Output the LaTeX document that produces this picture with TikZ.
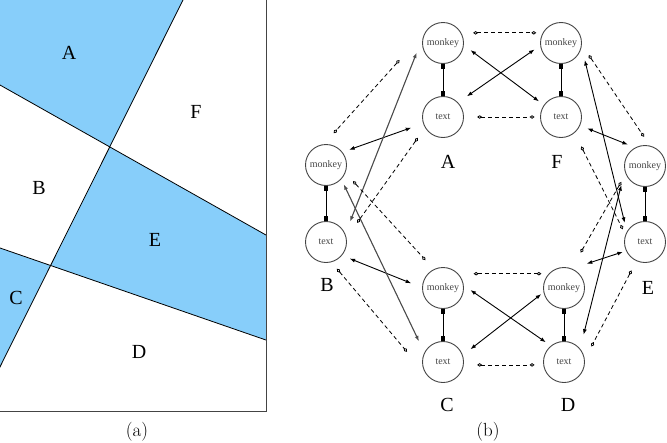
\documentclass[tikz,border=0pt]{standalone}
\usepackage{fontspec}
\usepackage{tikz}
\usetikzlibrary{arrows.meta}
\newfontfamily\timesfont{Liberation Serif}
\definecolor{regionblue}{RGB}{135,206,250}
\definecolor{ringgray}{HTML}{444444}

\begin{document}
\begin{tikzpicture}[x=1pt,y=-1pt,
    agent/.style={circle,draw=ringgray,line width=0.9pt,minimum size=41pt,inner sep=0pt,
      text=ringgray,font=\timesfont\fontsize{10}{12}\selectfont},
    tie/.style={{Square[length=5pt,width=4pt]}-{Square[length=5pt,width=4pt]},line width=1pt},
    link/.style={{Latex[length=5.5pt,width=4pt]}-{Latex[length=5.5pt,width=4pt]},line width=0.9pt},
    hint/.style={{Diamond[open,length=5pt,width=3.5pt]}-{Diamond[open,length=5pt,width=3.5pt]},
      line width=0.8pt,dash pattern=on 4pt off 3pt},
    letter/.style={font=\timesfont\fontsize{20}{24}\selectfont}]
  \useasboundingbox (0,0) rectangle (667,442);
  % (a) the plane cut by three lines
  \begin{scope}
    \clip (0,0) rectangle (266,411);
    \fill[regionblue] (-30,-5) -- (185.5,-5) -- (110,147) -- (-30,68.1) -- cycle;
    \fill[regionblue] (110,147) -- (266,235) -- (266,340) -- (50.6,265.5) -- cycle;
    \fill[regionblue] (-30,237.6) -- (50.6,265.5) -- (-30,427) -- cycle;
    \draw[line width=0.8pt] (185.5,-5) -- (-30,427);
    \draw[line width=0.8pt] (-30,68.1) -- (300,254.2);
    \draw[line width=0.8pt] (-30,237.6) -- (300,351.8);
  \end{scope}
  \draw[ringgray,line width=0.9pt] (266,0) -- (266,411) -- (0,411);
  \foreach \g/\x/\y in {A/69/53,F/196/112,B/39/188,E/155/240,C/16/298,D/139/352}
    \node[letter] (reg\g) at (\x,\y) {\g};
  \node[font=\fontsize{19}{22}\selectfont] (capa) at (137,432) {(a)};
  % (b) monkey/text pairs
  \foreach \g/\x/\y/\v in {A/443/43/74,F/561/43/74,B/326/165/77,E/645/166/76,C/443/288/74,D/564/288/74} {
    \node[agent] (m\g) at (\x,\y) {monkey};
    \node[agent] (t\g) at (\x,\y+\v) {text};
    \draw[tie] (m\g) -- (t\g);
  }
  \foreach \g/\x/\y in {A/448/162,F/557/162,B/327/285,E/648/288,C/447/405,D/568/405}
    \node[letter] (lab\g) at (\x,\y) {\g};
  \node[font=\fontsize{19}{22}\selectfont] (capb) at (488,432) {(b)};
  % solid links between neighbours
  \foreach \p/\q/\s/\t in {mA.-6/tF.145/8.3/6.1, mF.187/tA.44/6.9/10.8, tF.-24/mE.118/7.6/7.8,
      tE.205/mD.68/3.3/15.7, mC.7/tD.129/8.1/6.1, mD.192/tC.19/2.9/9.7,
      mB.38/tA.198/7.1/12.5, tB.-40/mC.179/8.2/11.7, mF.-11/tE.150/13.4/8.9, mE.195/tD.40/14.1/14.3}
    \draw[link,shorten <=\s pt,shorten >=\t pt] (\p) -- (\q);
  % long links on the left
  \foreach \p/\q/\s/\t in {tB.23/mA.159/13.1/18.4, mB.-43/tC.153/5.5/12.4}
    \draw[link,line width=1.1pt,draw=black!70,fill=black!70,shorten <=\s pt,shorten >=\t pt] (\p) -- (\q);
  % dashed links
  \foreach \p/\q/\s/\t in {mA.29/mF.151/11.8/6.4, tA.0/tF.180/13.2/5.5, mF.-5/mE.76/12.3/10.7,
      tF.-50/tE.159/15/5.8, mE.203/mD.69/8.9/18.3, tE.246/tD.8/10.5/14.2,
      mC.43/mD.137/15.3/7.3, tC.-8/tD.188/13.4/8.7, mA.140/mB.96/41/14.75,
      tA.211/tB.12/12.3/18.2, mB.-22/mC.116/11.2/12.3, tB.-75/tC.220/8.5/30.9}
    \draw[hint,shorten <=\s pt,shorten >=\t pt] (\p) -- (\q);
\end{tikzpicture}
\end{document}
